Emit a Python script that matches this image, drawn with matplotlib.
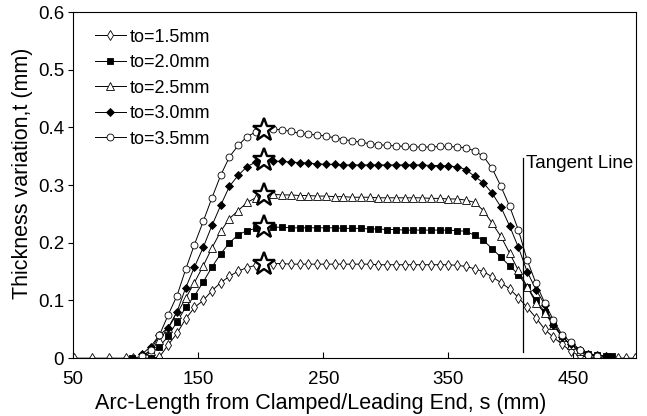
import matplotlib
matplotlib.use("Agg")
import matplotlib.pyplot as plt

plt.rcParams['font.family'] = ['Liberation Sans', 'DejaVu Sans']

# arc length grid (mm) shared by the middle part of all curves
s_mid = [105, 112, 119, 126, 133, 140, 147, 154, 161, 168, 175, 182, 189, 196, 203,
         210, 217, 224, 231, 238, 245, 252, 259, 266, 273, 280, 287, 294, 301, 308,
         315, 322, 329, 336, 343, 350, 357,
         364, 371, 378, 385, 392, 399, 406, 413, 420, 427, 434, 441, 448, 455]

t15_mid = [0, 0, 0.002, 0.023, 0.043, 0.068, 0.088, 0.100, 0.117, 0.131, 0.142, 0.151, 0.157, 0.161, 0.164,
           0.164, 0.164, 0.163, 0.163, 0.163, 0.163, 0.163, 0.163, 0.163, 0.163, 0.163,
           0.163, 0.162, 0.162, 0.162, 0.162, 0.162, 0.162, 0.162, 0.162, 0.162, 0.161,
           0.159, 0.155, 0.150, 0.141, 0.131, 0.120, 0.105, 0.088, 0.070, 0.050, 0.036, 0.024, 0.012, 0.004]
t20_mid = [0.003, 0.008, 0.020, 0.038, 0.063, 0.088, 0.108, 0.132, 0.158, 0.181, 0.200, 0.214, 0.221, 0.225, 0.228,
           0.227, 0.227, 0.226, 0.226, 0.226, 0.226, 0.226, 0.226, 0.225, 0.225, 0.225,
           0.224, 0.224, 0.223, 0.223, 0.222, 0.222, 0.222, 0.222, 0.222, 0.222, 0.221,
           0.220, 0.213, 0.204, 0.190, 0.175, 0.160, 0.145, 0.124, 0.100, 0.080, 0.060, 0.038, 0.022, 0.013]
t25_mid = [0.004, 0.012, 0.032, 0.052, 0.077, 0.104, 0.131, 0.160, 0.191, 0.220, 0.242, 0.256, 0.270, 0.278, 0.283,
           0.284, 0.283, 0.283, 0.282, 0.282, 0.281, 0.281, 0.280, 0.280, 0.279, 0.279,
           0.279, 0.278, 0.278, 0.278, 0.278, 0.278, 0.278, 0.277, 0.277, 0.276, 0.276,
           0.274, 0.270, 0.256, 0.234, 0.211, 0.182, 0.152, 0.124, 0.096, 0.078, 0.058, 0.037, 0.022, 0.012]
t30_mid = [0.007, 0.020, 0.040, 0.053, 0.080, 0.122, 0.158, 0.192, 0.230, 0.265, 0.298, 0.317, 0.332, 0.340, 0.344,
           0.342, 0.341, 0.340, 0.339, 0.338, 0.337, 0.336, 0.336, 0.335, 0.335, 0.335,
           0.335, 0.335, 0.335, 0.335, 0.335, 0.335, 0.335, 0.334, 0.334, 0.333, 0.332,
           0.327, 0.315, 0.304, 0.286, 0.262, 0.229, 0.192, 0.150, 0.119, 0.093, 0.058, 0.036, 0.024, 0.015]
t35_mid = [0.003, 0.014, 0.040, 0.075, 0.108, 0.154, 0.197, 0.237, 0.278, 0.317, 0.349, 0.369, 0.384, 0.392, 0.395,
           0.397, 0.396, 0.393, 0.390, 0.388, 0.387, 0.385, 0.382, 0.379, 0.377, 0.374,
           0.372, 0.370, 0.369, 0.368, 0.367, 0.366, 0.366, 0.366, 0.367, 0.367, 0.366,
           0.365, 0.359, 0.350, 0.329, 0.298, 0.263, 0.222, 0.170, 0.130, 0.096, 0.066, 0.040, 0.028, 0.015]

# extra points at the ends of each curve
s15 = [51, 65, 79, 92, 98] + s_mid + [462, 470, 479, 486, 492, 499]
t15 = [0, 0, 0, 0, 0] + t15_mid + [0.002, 0.001, 0, 0, 0, 0]
s20 = [97] + s_mid + [462, 469, 476, 481]
t20 = [0] + t20_mid + [0.007, 0.005, 0.004, 0.003]
s25 = s_mid + [462, 469]
t25 = t25_mid + [0.006, 0.003]
s30 = s_mid + [462, 469, 476]
t30 = t30_mid + [0.008, 0.005, 0.003]
s35 = s_mid + [462, 469]
t35 = t35_mid + [0.006, 0.003]

labels = ['to=1.5mm', 'to=2.0mm', 'to=2.5mm', 'to=3.0mm', 'to=3.5mm']
star_s = 203
tangent_s = 410

fig = plt.figure(figsize=(6.47, 4.16), dpi=100)
ax = fig.add_axes([0.113, 0.139, 0.870, 0.832])

series = [(s15, t15, 'd', 'white'), (s20, t20, 's', 'black'), (s25, t25, '^', 'white'),
          (s30, t30, 'D', 'black'), (s35, t35, 'o', 'white')]
sizes = [5.5, 4.5, 5.5, 4.5, 5]
for (s, t, mk, fc), lab, ms in zip(series, labels, sizes):
    ax.plot(s, t, color='black', lw=0.7, marker=mk, ms=ms, mfc=fc, mec='black', mew=0.6, label=lab)
    ax.plot([star_s], [t[s.index(star_s)]], marker='*', ms=17, mfc='white', mec='black', mew=1.7,
            ls='none', zorder=5)

ax.plot([tangent_s, tangent_s], [0.01, 0.347], color='black', lw=0.9)
ax.text(tangent_s + 2, 0.352, 'Tangent Line', fontsize=13.5, va='top', ha='left')

ax.set_xlim(50, 500)
ax.set_ylim(0, 0.6)
ax.set_xticks([50, 150, 250, 350, 450])
ax.set_yticks([0, 0.1, 0.2, 0.3, 0.4, 0.5, 0.6])
ax.set_yticklabels(['0', '0.1', '0.2', '0.3', '0.4', '0.5', '0.6'])
ax.tick_params(axis='x', direction='in', length=4, labelsize=13.5, pad=9)
ax.tick_params(axis='y', direction='out', length=3.5, labelsize=13.5, pad=3)
for sp in ax.spines.values():
    sp.set_linewidth(0.8)

ax.set_xlabel('Arc-Length from Clamped/Leading End, s (mm)', fontsize=15.5)
ax.set_ylabel('Thickness variation,t (mm)', fontsize=15.5)
ax.xaxis.set_label_coords(0.44, -0.1)
ax.yaxis.set_label_coords(-0.071, 0.535)

ax.legend(loc='upper left', frameon=False, fontsize=13, handlelength=1.7, handletextpad=0.2,
          labelspacing=0.47, bbox_to_anchor=(0.039, 0.952), borderaxespad=0, borderpad=0)

fig.savefig('out.png', dpi=100)
